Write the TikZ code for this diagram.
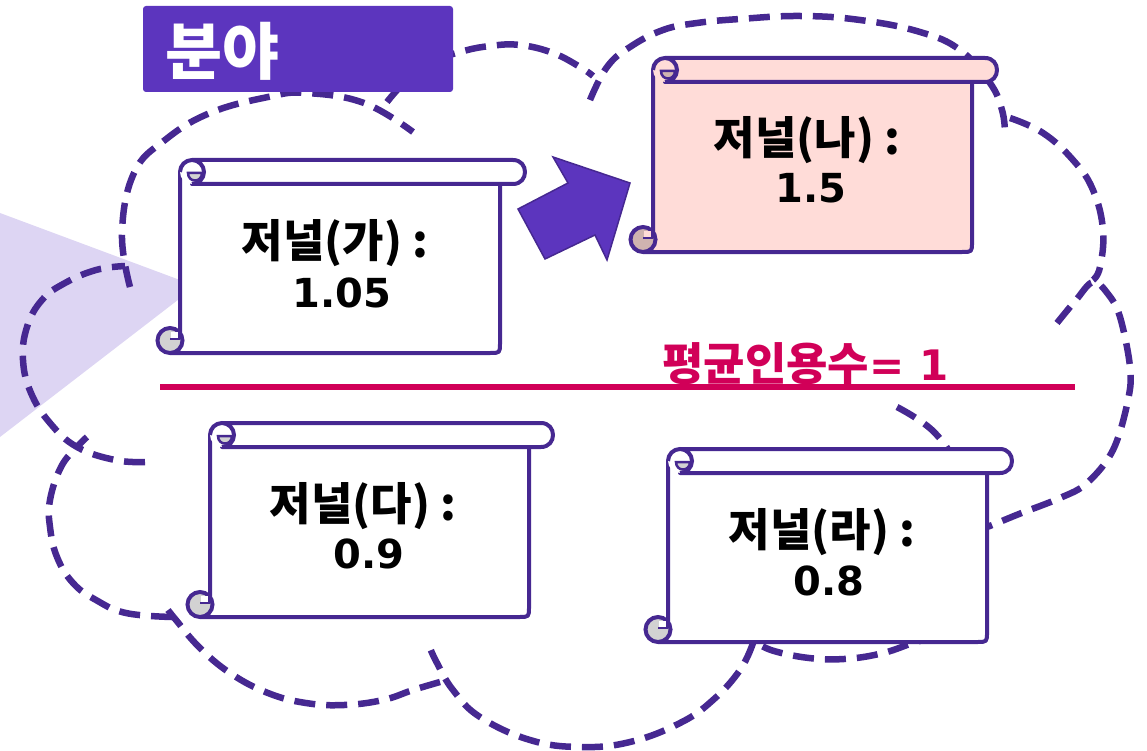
\documentclass[tikz,border=0pt]{standalone}
\usepackage{fontspec}
\newfontfamily\kr{Noto Sans CJK KR}
\newfontfamily\dv{DejaVu Sans}
\definecolor{scl}{HTML}{462891}
\definecolor{cl}{HTML}{462891}
\definecolor{boxfill}{HTML}{5C35BE}
\definecolor{tri}{HTML}{DDD5F3}
\definecolor{redc}{HTML}{D10058}
\definecolor{pinkf}{HTML}{FFDCD8}
\definecolor{pinkc}{HTML}{CFB3B0}
\definecolor{greyc}{HTML}{D2D2D2}
\newcommand\drawscroll[7]{%
 \filldraw[fill=#6, draw=scl, line width=4pt, line join=round]
   (#4,{#2+12}) -- (#1,{#2+12}) -- (#1,{#5-12}) -- ({#1-10},#5) -- ({#4-10},#5) .. controls (#4,#5) .. (#4,{#5-10}) -- cycle;
 \filldraw[fill=#6, draw=scl, line width=4pt, line join=round]
   ({#1+12},#2) -- ({#3-12},#2) .. controls ({#3+4},#2) and ({#3+4},{#2+24}) .. ({#3-12},{#2+24}) -- ({#1+12},{#2+24}) -- cycle;
 \fill[#6] ({#1+12},{#2+12}) circle[radius=12pt];
 \draw[scl, line width=4pt] (#1,{#2+12}) .. controls (#1,{#2+5.4}) and ({#1+5.4},#2) .. ({#1+12},#2) .. controls ({#1+18.6},#2) and ({#1+24},{#2+5.4}) .. ({#1+24},{#2+12}) .. controls ({#1+24},{#2+18.6}) and ({#1+18.6},{#2+24}) .. ({#1+12},{#2+24});
 \filldraw[fill=#7, draw=scl, line width=2.5pt] ({#1+8},{#2+13}) -- ({#1+22},{#2+13}) .. controls ({#1+22},{#2+23}) and ({#1+8},{#2+23}) .. cycle;
 \filldraw[fill=#7, draw=scl, line width=4pt] ({#1-10},{#5-12.5}) circle[radius=12.5pt];
 \fill[#6] ({#1-9},{#5-14}) rectangle ({#1-1},{#5-21});
 \draw[scl, line width=2.5pt] ({#1-10},{#5-14}) -- ({#1-1},{#5-14}) -- ({#1-1},{#5-22});
}
\tikzset{
 cloudln/.style={draw=cl, line width=6.5pt, dash pattern=on 21pt off 11pt},
 ktext/.style={font=\kr\bfseries\fontsize{45pt}{50pt}\selectfont, inner sep=0pt, anchor=base},
 dtext/.style={font=\dv\bfseries\fontsize{40pt}{46pt}\selectfont, inner sep=0pt, anchor=base},
}
\begin{document}
\begin{tikzpicture}[x=1pt,y=-1pt]
\useasboundingbox (0,0) rectangle (1147,751);
% light triangle
\fill[tri] (0,213) -- (196,286) -- (0,437) -- cycle;
% cloud lobes
\draw[cloudln] plot[smooth, tension=0.7] coordinates {(130,287) (122,233) (134,173) (165,140) (210,113) (268,97) (306,93) (364,103) (413,132)};
\draw[cloudln] plot[smooth, tension=0.7] coordinates {(387,102) (405,82) (430,63) (460,52) (490,46) (520,45) (553,53) (580,67) (593,76)};
\draw[cloudln] plot[smooth, tension=0.7] coordinates {(590,100) (607,67) (630,47) (663,30) (697,23) (740,19) (800,16) (860,20) (920,32) (960,50) (990,83) (1002,110) (1005,133)};
\draw[cloudln] plot[smooth, tension=0.7] coordinates {(1010,118) (1043,133) (1073,160) (1093,190) (1103,230) (1100,267) (1093,280)};
\draw[cloudln] plot[smooth, tension=0.6] coordinates {(1057,323) (1076,300) (1093,282) (1108,294) (1120,317) (1130,367) (1128,400) (1113,450) (1087,483) (1060,498) (1019,514) (987,527) (970,532)};
\draw[cloudln] plot[smooth, tension=0.7] coordinates {(897,407) (935,433) (955,470) (962,540) (950,610) (930,635) (907,645) (879,654) (844,659) (809,658) (774,651) (757,643)};
\draw[cloudln] plot[smooth, tension=0.7] coordinates {(753,643) (740,670) (713,700) (680,723) (630,742) (580,747) (530,740) (480,717) (453,690) (437,663) (430,648)};
\draw[cloudln] plot[smooth, tension=0.7] coordinates {(440,682) (413,690) (383,700) (344,705) (306,703) (268,693) (230,673) (199,647) (176,620) (168,610)};
\draw[cloudln] plot[smooth, tension=0.7] coordinates {(172,617) (126,613) (96,600) (73,583) (57,557) (50,527) (50,500) (61,467) (77,447) (87,437)};
\draw[cloudln] plot[smooth, tension=0.7] coordinates {(145,462) (115,460) (77,447) (50,423) (31,393) (23,360) (27,327) (42,300) (65,283) (96,270) (125,266)};
% scrolls
\drawscroll{180}{160}{525}{500}{353}{white}{greyc}
\drawscroll{653}{58}{997}{972}{252}{pinkf}{pinkc}
\drawscroll{210}{423}{553}{529}{617}{white}{greyc}
\drawscroll{668}{449}{1012}{987}{642}{white}{greyc}
% arrow
\filldraw[fill=boxfill, draw=scl, line width=1.5pt, line join=miter] (518,209) -- (568,183) -- (553,157) -- (630,183) -- (607,260) -- (595,235) -- (545,259) -- cycle;
% title box
\fill[boxfill, rounded corners=3pt] (143,6) rectangle (453,92);
\node[font=\kr\bfseries\fontsize{62pt}{70pt}\selectfont, text=white, inner sep=0pt, anchor=base west] (title) at (165,75) {분야};
% red line
\draw[redc, line width=5.5pt] (160,387) -- (1075,387);
\node[inner sep=0pt, anchor=base west, text=redc] (avg) at (662,380) {\kr\bfseries\fontsize{45pt}{50pt}\selectfont 평균인용수\dv\bfseries\fontsize{42pt}{48pt}\selectfont = 1};
% texts
\node[ktext] (ga1) at (335,258) {저널(가) :};
\node[dtext] (ga2) at (342,307) {1.05};
\node[ktext] (na1) at (807,155) {저널(나) :};
\node[dtext] (na2) at (811,203) {1.5};
\node[ktext] (da1) at (363,520) {저널(다) :};
\node[dtext] (da2) at (369,568) {0.9};
\node[ktext] (ra1) at (822,546) {저널(라) :};
\node[dtext] (ra2) at (829,595) {0.8};
\end{tikzpicture}
\end{document}
